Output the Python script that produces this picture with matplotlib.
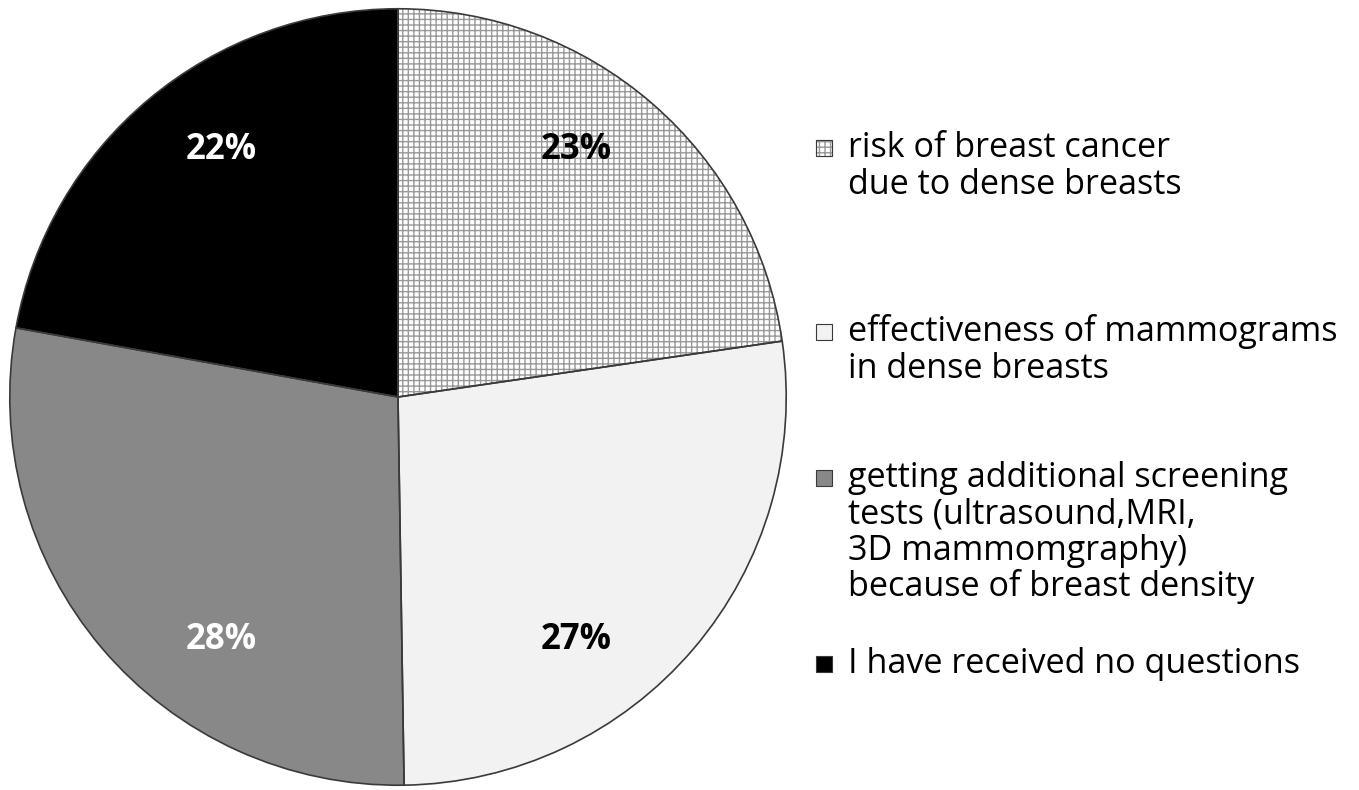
import numpy as np
import matplotlib.pyplot as plt
from matplotlib.patches import Rectangle

# values read from the wedge boundaries (labels are rounded)
shares = [22.7, 27.05, 28.1, 22.15]
labels = [
    ["risk of breast cancer", "due to dense breasts"],
    ["effectiveness of mammograms", "in dense breasts"],
    ["getting additional screening", "tests (ultrasound,MRI,", "3D mammomgraphy)", "because of breast density"],
    ["I have received no questions"],
]
colors = ["white", "#f2f2f2", "#888888", "black"]
hatches = ["+++", None, None, None]
label_colors = ["black", "black", "white", "white"]

W, H = 1359, 790
plt.rcParams['hatch.linewidth'] = 1.0
fig = plt.figure(figsize=(W / 100, H / 100), dpi=100)

cx, cy, R = 398, 397, 389
ax = fig.add_axes([(cx - R) / W, (H - cy - R) / H, 2 * R / W, 2 * R / H])

# fills (hatch colour follows edgecolor, so no outline here)
wedges, _ = ax.pie(shares, colors=colors, startangle=90, counterclock=False,
                   wedgeprops=dict(linewidth=0, edgecolor="#999999"))
for w, h in zip(wedges, hatches):
    if h:
        w.set_hatch(h)
# outlines
ax.pie(shares, colors=["none"] * 4, startangle=90, counterclock=False,
       wedgeprops=dict(linewidth=1.2, edgecolor="#3a3a3a", fill=False))
ax.set_xlim(-1.002, 1.002)
ax.set_ylim(-1.002, 1.002)
ax.axis("off")

# percentage labels, placed like Excel does
lab_pos = [(0.46, 0.635), (0.46, -0.625), (-0.455, -0.625), (-0.455, 0.635)]
for v, (x, y), c in zip(shares, lab_pos, label_colors):
    ax.text(x, y, f"{v:.0f}%", color=c, ha="center", va="center",
            fontsize=25, fontweight="bold", family="Open Sans")

# legend drawn by hand (uneven spacing in the original)
first_base = [157, 341, 487, 673]
line_gap = 36.5
for i, (lines, base) in enumerate(zip(labels, first_base)):
    fig.add_artist(Rectangle((816 / W, 1 - (base - 1) / H), 16 / W, 16 / H,
                             transform=fig.transFigure, facecolor=colors[i],
                             edgecolor="#999999" if hatches[i] else "#3a3a3a",
                             hatch=hatches[i], linewidth=0.8))
    if hatches[i]:
        fig.add_artist(Rectangle((816 / W, 1 - (base - 1) / H), 16 / W, 16 / H,
                                 transform=fig.transFigure, fill=False,
                                 edgecolor="#3a3a3a", linewidth=0.8))
    for k, line in enumerate(lines):
        fig.text(848 / W, 1 - (base + k * line_gap) / H, line, ha="left",
                 va="baseline", fontsize=24.6, family="Open Sans", color="black")

fig.savefig("out.png", dpi=100)
